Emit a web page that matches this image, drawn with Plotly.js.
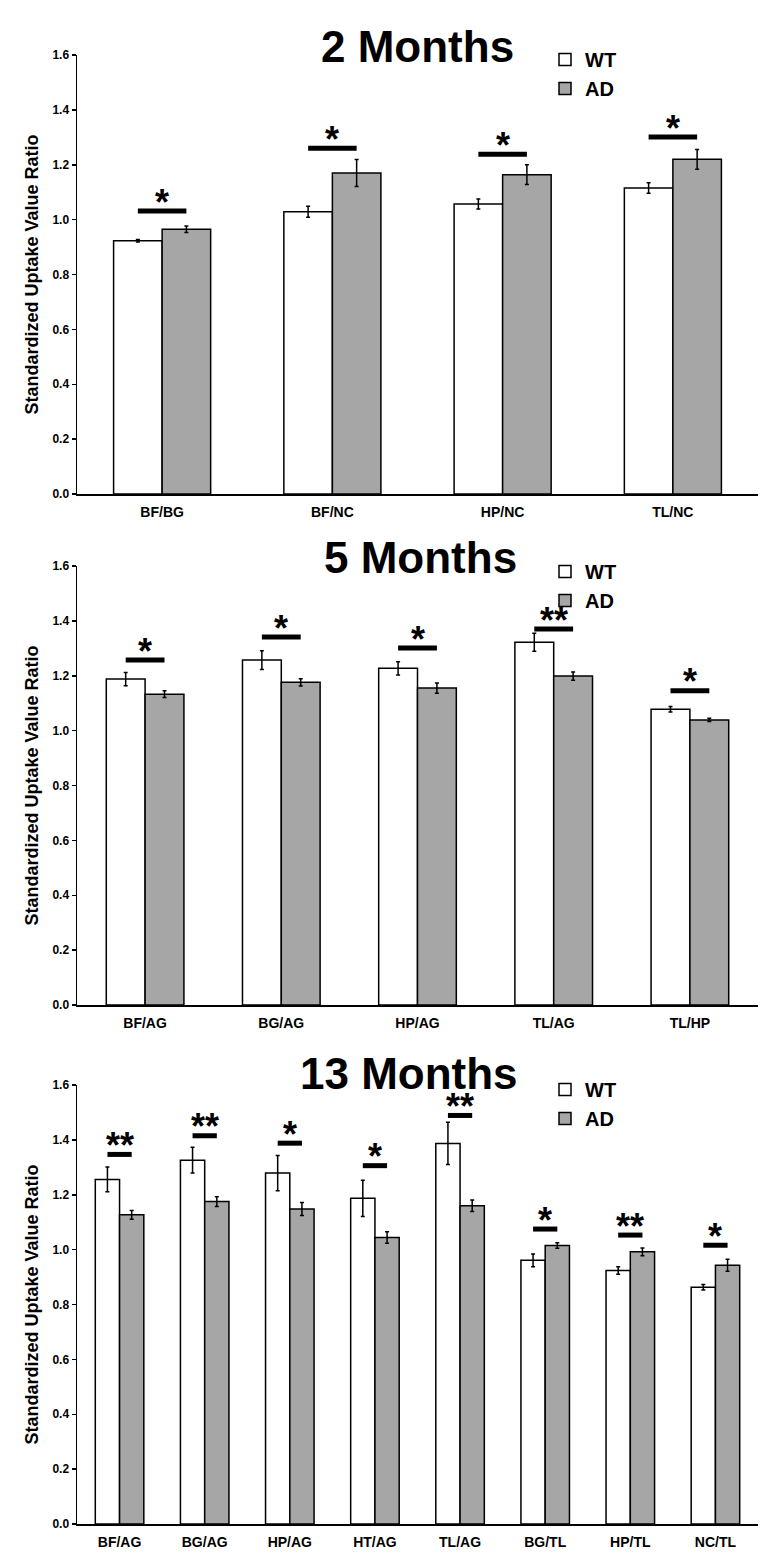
<!DOCTYPE html>
<html>
<head>
<meta charset="utf-8">
<script src="https://cdn.plot.ly/plotly-3.0.1.min.js"></script>
<style>html,body{margin:0;padding:0;background:#fff;}#chart{width:783px;height:1566px;}</style>
</head>
<body>
<div id="chart"></div>
<script>
// ---- Data ----
const panelTitles = ['2 Months', '5 Months', '13 Months'];
const seriesNames = ['WT', 'AD'];

const cats2 = ['BF/BG', 'BF/NC', 'HP/NC', 'TL/NC'];
const wt2 = [0.923, 1.029, 1.057, 1.115];
const wt2err = [0.005, 0.020, 0.018, 0.019];
const ad2 = [0.965, 1.170, 1.164, 1.220];
const ad2err = [0.012, 0.049, 0.036, 0.036];
const sig2y = [1.031, 1.260, 1.238, 1.301];
const sig2 = ['*', '*', '*', '*'];

const cats5 = ['BF/AG', 'BG/AG', 'HP/AG', 'TL/AG', 'TL/HP'];
const wt5 = [1.188, 1.257, 1.227, 1.322, 1.078];
const wt5err = [0.024, 0.034, 0.024, 0.033, 0.010];
const ad5 = [1.133, 1.176, 1.155, 1.199, 1.039];
const ad5err = [0.012, 0.013, 0.019, 0.015, 0.006];
const sig5y = [1.257, 1.341, 1.301, 1.370, 1.145];
const sig5 = ['*', '*', '*', '**', '*'];

const cats13 = ['BF/AG', 'BG/AG', 'HP/AG', 'HT/AG', 'TL/AG', 'BG/TL', 'HP/TL', 'NC/TL'];
const wt13 = [1.256, 1.326, 1.279, 1.187, 1.387, 0.961, 0.924, 0.863];
const wt13err = [0.045, 0.047, 0.064, 0.066, 0.077, 0.023, 0.014, 0.010];
const ad13 = [1.127, 1.175, 1.148, 1.044, 1.160, 1.015, 0.992, 0.943];
const ad13err = [0.016, 0.018, 0.024, 0.021, 0.021, 0.010, 0.014, 0.022];
const sig13y = [1.347, 1.415, 1.388, 1.306, 1.489, 1.075, 1.053, 1.016];
const sig13 = ['**', '**', '*', '*', '**', '*', '**', '*'];

const yTicks = [0.0, 0.2, 0.4, 0.6, 0.8, 1.0, 1.2, 1.4, 1.6];
const yTitle = 'Standardized Uptake Value Ratio';

// ---- Build ----
const FONT = 'Liberation Sans, Arial, sans-serif';
const W = 783, H = 1566;
const BARGAP = 0.43;
const panels = [
  {cats: cats2, wt: wt2, wte: wt2err, ad: ad2, ade: ad2err, sy: sig2y, s: sig2, top: 55, bottom: 494, titleY: 47, titleX: 417, legY: 40},
  {cats: cats5, wt: wt5, wte: wt5err, ad: ad5, ade: ad5err, sy: sig5y, s: sig5, top: 566, bottom: 1005, titleY: 557, titleX: 420, legY: 552},
  {cats: cats13, wt: wt13, wte: wt13err, ad: ad13, ade: ad13err, sy: sig13y, s: sig13, top: 1085, bottom: 1524, titleY: 1073, titleX: 409, legY: 1070}
];

const data = [];
const layout = {
  width: W, height: H,
  margin: {l: 0, r: 0, t: 0, b: 0},
  paper_bgcolor: '#fff', plot_bgcolor: '#fff',
  barmode: 'group', bargap: BARGAP, bargroupgap: 0,
  font: {family: FONT, color: '#000'},
  showlegend: true,
  shapes: [], annotations: []
};
const xdom = [77 / W, 758 / W];
const half = (1 - BARGAP) / 4;

panels.forEach((p, k) => {
  const n = k === 0 ? '' : String(k + 1);
  const xa = 'x' + n, ya = 'y' + n;
  const legId = 'legend' + n;
  const xs = p.cats.map((c, i) => i);
  data.push({
    type: 'bar', name: seriesNames[0], x: xs, y: p.wt, xaxis: xa, yaxis: ya, legend: legId,
    marker: {color: '#ffffff', line: {color: '#000', width: 1.5}},
    error_y: {type: 'data', array: p.wte, visible: true, color: '#000', thickness: 1.5, width: 2},
    hoverinfo: 'y'
  });
  data.push({
    type: 'bar', name: seriesNames[1], x: xs, y: p.ad, xaxis: xa, yaxis: ya, legend: legId,
    marker: {color: '#a6a6a6', line: {color: '#000', width: 1.5}},
    error_y: {type: 'data', array: p.ade, visible: true, color: '#000', thickness: 1.5, width: 2},
    hoverinfo: 'y'
  });
  layout['xaxis' + n] = {
    domain: xdom, anchor: ya, range: [-0.5, p.cats.length - 0.5],
    tickmode: 'array', tickvals: xs, ticktext: p.cats,
    showline: true, linecolor: '#000', linewidth: 1.5, ticks: '', showgrid: false, zeroline: false,
    ticklabelstandoff: 5,
    tickfont: {family: FONT, size: 14, weight: 700, color: '#000'}
  };
  layout['yaxis' + n] = {
    domain: [(H - p.bottom) / H, (H - p.top) / H], anchor: xa, range: [0, 1.6],
    tickmode: 'array', tickvals: yTicks, tickformat: '.1f',
    showline: true, linecolor: '#000', linewidth: 1.5, ticks: 'outside', ticklen: 4, tickwidth: 1.5, tickcolor: '#000',
    showgrid: false, zeroline: false,
    tickfont: {family: FONT, size: 12, weight: 700, color: '#000'},
    title: {text: yTitle, standoff: 9, font: {family: FONT, size: 18, weight: 700, color: '#000'}}
  };
  layout[legId] = {
    x: 545 / W, xanchor: 'left', y: (H - p.legY) / H, yanchor: 'top',
    bgcolor: 'rgba(0,0,0,0)', borderwidth: 0,
    font: {family: FONT, size: 20, weight: 700, color: '#000'},
    tracegroupgap: 0, itemclick: false, itemdoubleclick: false
  };
  layout.annotations.push({
    text: panelTitles[k], xref: 'paper', yref: 'paper', x: p.titleX / W, y: (H - p.titleY) / H,
    xanchor: 'center', yanchor: 'middle', showarrow: false,
    font: {family: FONT, size: 44, weight: 700, color: '#000'}
  });
  p.sy.forEach((v, i) => {
    layout.shapes.push({
      type: 'line', xref: xa, yref: ya, x0: i - half, x1: i + half, y0: v, y1: v,
      line: {color: '#000', width: 5}
    });
    layout.annotations.push({
      text: p.s[i], xref: xa, yref: ya, x: i, y: v, xanchor: 'center', yanchor: 'middle',
      yshift: 9, showarrow: false,
      font: {family: FONT, size: 36, weight: 700, color: '#000'}
    });
  });
});

Plotly.newPlot('chart', data, layout, {displayModeBar: false, staticPlot: true});
</script>
</body>
</html>
